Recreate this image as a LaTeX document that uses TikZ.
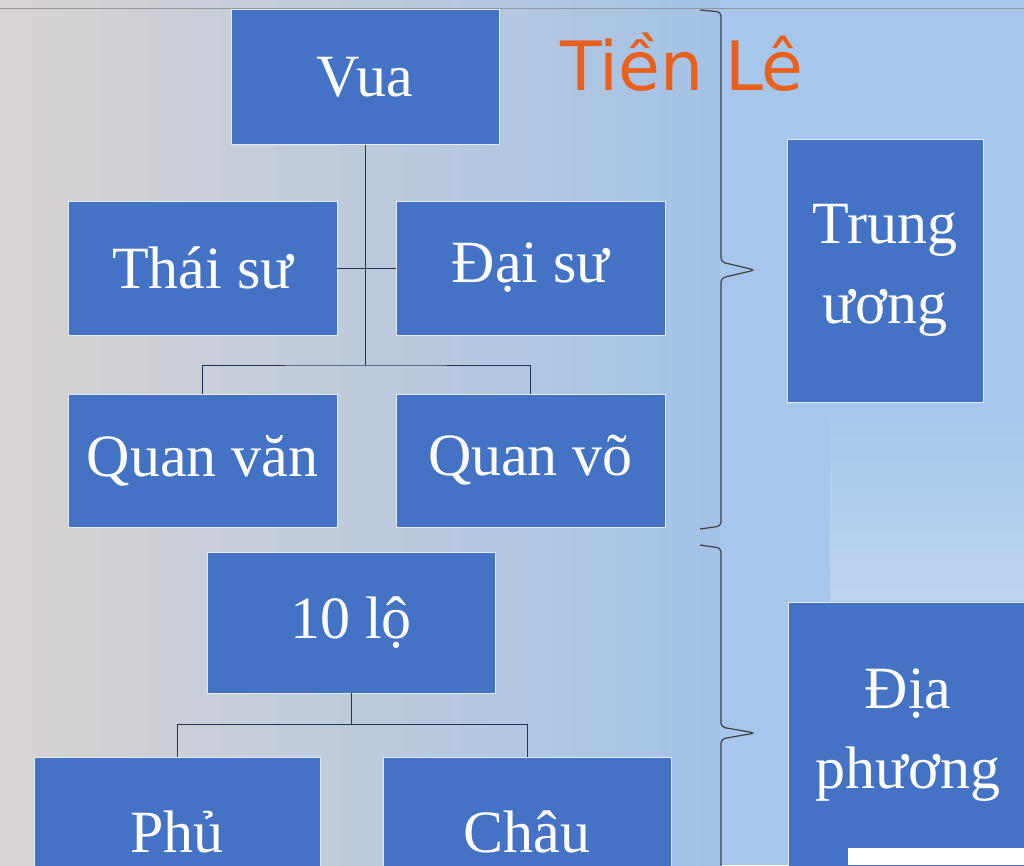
\documentclass[tikz,border=0pt]{standalone}
\usepackage{fontspec}
\setmainfont{Liberation Serif}
\newfontfamily\handfont{DejaVu Sans}
\definecolor{boxblue}{HTML}{4472C4}
\definecolor{bgl}{HTML}{D9D3D2}
\definecolor{bgr}{HTML}{A3C2E6}
\definecolor{bgrr}{HTML}{A6C6EC}
\definecolor{hand}{HTML}{E8601C}
\begin{document}
\begin{tikzpicture}[x=1pt,y=-1pt,
  bx/.style={fill=boxblue,draw=white!85!boxblue,line width=0.8pt,text=white,font=\fontsize{60}{80}\selectfont,align=center,inner sep=0pt},
  ln/.style={draw=black!55!boxblue,line width=1pt},
  br/.style={draw=black!75,line width=1.2pt,rounded corners=4pt}]
\useasboundingbox (0,0) rectangle (1024,865);
\shade[left color=bgl,right color=bgr] (0,0) rectangle (720,865);
\fill[bgrr] (720,0) rectangle (1024,865);
\shade[top color=bgrr,bottom color=bgr!70!white] (830,400) rectangle (1024,600);
\draw[black!40,line width=1pt] (0,8) -- (1024,8);
\node[bx,minimum width=268pt,minimum height=135pt] (vua) at (365,77) {Vua};
\node[bx,minimum width=269pt,minimum height=134pt] (thai) at (202.5,268) {Thái sư};
\node[bx,minimum width=269pt,minimum height=134pt] (dai) at (530.5,268) {Đại sư};
\node[bx,minimum width=269pt,minimum height=133pt] (van) at (202.5,460.5) {Quan văn};
\node[bx,minimum width=269pt,minimum height=133pt] (vo) at (530.5,460.5) {Quan võ};
\node[bx,minimum width=288pt,minimum height=141pt] (lo) at (351,622.5) {10 lộ};
\node[bx,minimum width=286pt,minimum height=150pt] (phu) at (177,832) {Phủ};
\node[bx,minimum width=288pt,minimum height=150pt] (chau) at (527,832) {Châu};
\node[bx,minimum width=196pt,minimum height=263pt] (tw) at (885,270.5) {Trung\\ương};
\node[bx,minimum width=240pt,minimum height=266pt] (dp) at (908,735) {Địa\\phương};
\fill[white] (848,848) rectangle (1024,865);
\coordinate (j1) at (365,365);
\draw[ln] (vua.south) -- (j1);
\draw[ln] (thai.east) -- (dai.west);
\draw[ln] (van.north) |- (j1) -| (vo.north);
\coordinate (j2) at (351,724);
\draw[ln] (lo.south) -- (j2);
\draw[ln] (phu.north) |- (j2) -| (chau.north);
\draw[br] (700,10) -- (721,12) -- (721,262) -- (755,270) -- (721,278) -- (721,526) -- (700,529);
\draw[br] (700,545) -- (721,548) -- (721,727) -- (755,733) -- (721,739) -- (721,880);
\node[text=hand,font=\handfont\fontsize{68}{68}\selectfont] (tl) at (682,62) {Tiền Lê};
\end{tikzpicture}
\end{document}
